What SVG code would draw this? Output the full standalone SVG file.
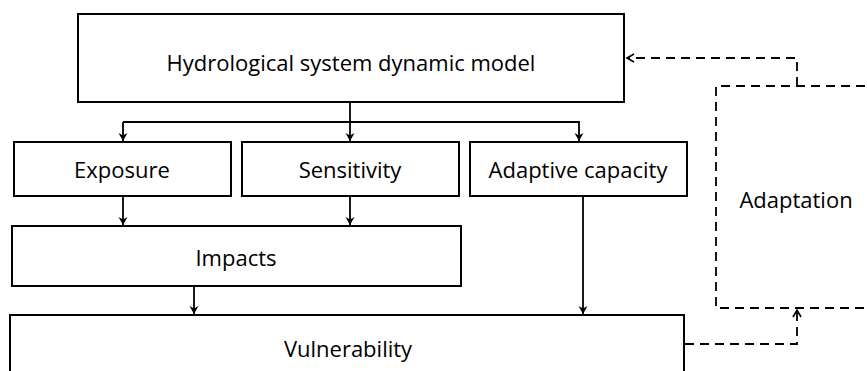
<svg xmlns="http://www.w3.org/2000/svg" width="867" height="371" viewBox="0 0 867 371">
<defs>
<style>
.box{fill:#fff;stroke:#000;stroke-width:2}
.lbl{font-family:"Open Sans","Liberation Sans",sans-serif;font-size:22px;fill:#000;text-anchor:middle;dominant-baseline:central}
.ln{fill:none;stroke:#000;stroke-width:1.8}
.dash{fill:none;stroke:#000;stroke-width:1.8;stroke-dasharray:9 6}
</style>
<marker id="ah" markerWidth="12" markerHeight="12" refX="10" refY="6" orient="auto" markerUnits="userSpaceOnUse">
<path d="M2,1.5 L10,6 L2,10.5 L4.5,6 Z" fill="#000"/>
</marker>
<marker id="oh" markerWidth="12" markerHeight="12" refX="10" refY="6" orient="auto" markerUnits="userSpaceOnUse">
<path d="M3,2 L10,6 L3,10" fill="none" stroke="#000" stroke-width="1.6"/>
</marker>
</defs>
<rect width="867" height="371" fill="#fff"/>
<g id="connectors">
<path class="ln" d="M350,102 V122"/>
<path class="ln" d="M123,122 H580"/>
<path class="ln" d="M123,122 V141" marker-end="url(#ah)"/>
<path class="ln" d="M350,122 V141" marker-end="url(#ah)"/>
<path class="ln" d="M579,122 V141" marker-end="url(#ah)"/>
<path class="ln" d="M123,196 V225" marker-end="url(#ah)"/>
<path class="ln" d="M350,196 V225" marker-end="url(#ah)"/>
<path class="ln" d="M194,286 V314" marker-end="url(#ah)"/>
<path class="ln" d="M583,196 V314" marker-end="url(#ah)"/>
<path class="dash" d="M797,86 V58 H627" marker-end="url(#oh)"/>
<path class="dash" d="M685,344 H797 V310" marker-end="url(#oh)"/>
</g>
<g id="adaptation">
<path class="dash" d="M880,86 H716 V308 H880"/>
<text class="lbl" x="796" y="199">Adaptation</text>
</g>
<g id="model">
<rect class="box" x="78" y="14" width="546" height="88"/>
<text class="lbl" x="351" y="62">Hydrological system dynamic model</text>
</g>
<g id="exposure">
<rect class="box" x="14" y="142" width="217" height="54"/>
<text class="lbl" x="122" y="169">Exposure</text>
</g>
<g id="sensitivity">
<rect class="box" x="242" y="142" width="217" height="54"/>
<text class="lbl" x="350" y="169">Sensitivity</text>
</g>
<g id="adaptive">
<rect class="box" x="470" y="142" width="217" height="54"/>
<text class="lbl" x="578" y="169">Adaptive capacity</text>
</g>
<g id="impacts">
<rect class="box" x="12" y="226" width="449" height="60"/>
<text class="lbl" x="236" y="257">Impacts</text>
</g>
<g id="vulnerability">
<rect class="box" x="10" y="315" width="674" height="70"/>
<text class="lbl" x="348" y="348">Vulnerability</text>
</g>
</svg>
